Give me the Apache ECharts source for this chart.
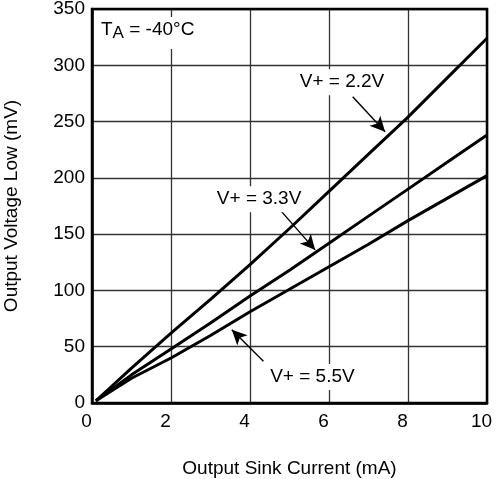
<!DOCTYPE html>
<html>
<head>
<meta charset="utf-8">
<script src="https://cdn.jsdelivr.net/npm/echarts@6/dist/echarts.min.js"></script>
<style>
  html, body { margin: 0; padding: 0; background: #fff; }
  #chart { width: 496px; height: 479px; }
</style>
</head>
<body>
<div id="chart"></div>
<script>
// sink current (mA) and output low voltage (mV) per supply
const currentMA = [0.1, 1, 2, 3, 4, 5, 6, 7, 8, 9, 10];
const vol22 = [2, 31, 62, 92, 123, 155, 188, 221, 254, 289, 324];
const vol33 = [2, 25, 48, 71, 95, 118, 142, 166, 190, 214, 238];
const vol55 = [2, 22, 40, 60, 81, 101, 121, 141, 162, 182, 202];

// annotation: label text, label anchor, arrow start, arrow tip (data units)
const notes = [
  { text: 'V+ = 2.2V', at: [6.33, 285], from: [6.60, 272], to: [7.42, 241] },
  { text: 'V+ = 3.3V', at: [4.23, 181], from: [4.80, 170], to: [5.65, 136] },
  { text: 'V+ = 5.5V', at: [5.58, 23], from: [4.34, 37], to: [3.54, 65] },
];

const FONT = 'Liberation Sans, Arial, sans-serif';

const pairs = ys => currentMA.map((x, i) => [x, ys[i]]);

const chart = echarts.init(document.getElementById('chart'));

function curve(ys, note) {
  return {
    type: 'line',
    data: pairs(ys),
    symbol: 'none',
    smooth: false,
    lineStyle: { color: '#000', width: 3 },
    z: 5,
    markLine: {
      silent: true,
      symbol: ['none', 'arrow'],
      symbolSize: [11, 15],
      lineStyle: { color: '#000', width: 1.4, type: 'solid' },
      label: { show: false },
      data: [[{ coord: note.from }, { coord: note.to }]],
    },
    markPoint: {
      silent: true,
      symbol: 'rect',
      symbolSize: 0,
      label: {
        show: true, position: 'inside', formatter: note.text,
        color: '#000', fontSize: 19, fontFamily: FONT,
        backgroundColor: '#fff', padding: [4, 2, 3, 2],
      },
      data: [{ coord: note.at }],
    },
  };
}

const option = {
  animation: false,
  backgroundColor: '#fff',
  grid: { left: 92, right: 9, top: 9, bottom: 76, outerBoundsMode: 'none', containLabel: false },
  xAxis: {
    type: 'value', min: 0, max: 10, interval: 2,
    name: 'Output Sink Current (mA)',
    nameLocation: 'middle', nameGap: 56,
    nameTextStyle: { color: '#000', fontSize: 19, fontFamily: FONT },
    axisLine: { show: true, onZero: false, lineStyle: { color: '#000', width: 2.5 } },
    axisTick: { show: false },
    axisLabel: { color: '#000', fontSize: 19, fontFamily: FONT, margin: 9, padding: [0, 11, 0, 0] },
    splitLine: { show: true, lineStyle: { color: '#333', width: 1.3 } },
  },
  yAxis: {
    type: 'value', min: 0, max: 350, interval: 50,
    name: 'Output Voltage Low (mV)',
    nameLocation: 'middle', nameGap: 71,
    nameTextStyle: { color: '#000', fontSize: 19, fontFamily: FONT },
    axisLine: { show: true, lineStyle: { color: '#000', width: 2.5 } },
    axisTick: { show: false },
    axisLabel: { color: '#000', fontSize: 19, fontFamily: FONT, margin: 7, padding: [3, 0, 0, 0] },
    splitLine: { show: true, lineStyle: { color: '#333', width: 1.3 } },
  },
  graphic: [
    // top & right frame
    { type: 'rect', shape: { x: 92, y: 9, width: 395, height: 394 },
      style: { fill: 'none', stroke: '#000', lineWidth: 2.5 }, z: 10, silent: true },
    { type: 'text', left: 98, top: 17, z: 10,
      style: {
        text: '{t|T}{s|A}{t| = -40°C}',
        backgroundColor: '#fff', padding: [3, 3, 3, 3],
        rich: {
          t: { fontSize: 19, fontFamily: FONT, fill: '#000', verticalAlign: 'top', lineHeight: 26 },
          s: { fontSize: 17, fontFamily: FONT, fill: '#000', verticalAlign: 'top', lineHeight: 26, padding: [5, 0, 0, 0] },
        },
      } },
  ],
  series: [
    curve(vol22, notes[0]),
    curve(vol33, notes[1]),
    curve(vol55, notes[2]),
  ],
};

chart.setOption(option);
window.addEventListener('resize', () => chart.resize());
</script>
</body>
</html>
